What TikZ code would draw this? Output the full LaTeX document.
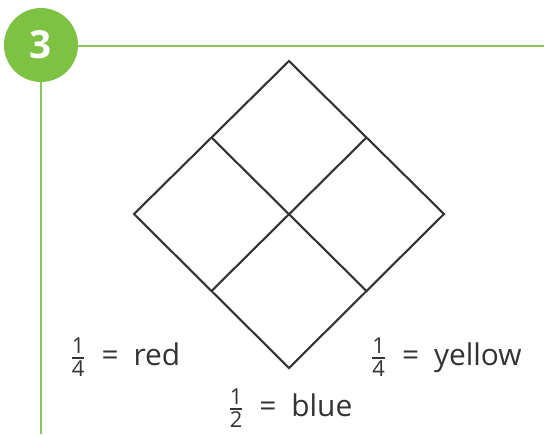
\documentclass[tikz,border=0pt]{standalone}
\usepackage{amsmath}
\usepackage{fontspec}
\setmainfont{Open Sans}
\usepackage{tikz}
\usetikzlibrary{positioning, calc}
\definecolor{twgreen}{HTML}{7DC242}
\definecolor{linegreen}{HTML}{8CC65A}
\definecolor{inkgray}{HTML}{333333}
\newcommand{\partfrac}[2]{$\frac{\mbox{\fontsize{12.5}{13}\selectfont #1}}{\mbox{\fontsize{12.5}{13}\selectfont #2}}$\enspace=\enspace}

\begin{document}
\begin{tikzpicture}[
    x=0.02cm, y=-0.02cm,
    every node/.style={font=\fontsize{17}{20}\selectfont, text=inkgray},
    frame/.style={draw=linegreen, line width=0.9pt},
    badge/.style={circle, fill=twgreen, minimum size=1.48cm, inner sep=0pt, font=\fontsize{22}{24}\selectfont\bfseries, text=white},
    edge/.style={draw=inkgray, line width=1.2pt, line join=miter},
    share/.style={inner sep=1pt}
]
    \useasboundingbox (0,0) rectangle (544,434);

    % number badge and green frame
    \node[badge] (num) at (41,45) {3};
    \coordinate (frameright) at (544,46);
    \coordinate (framebottom) at (41,434);
    \draw[frame] (num.east |- frameright) -- (frameright);
    \draw[frame] (num.south) -- (framebottom);

    % diamond split into four parts
    \coordinate (top) at (289,61);
    \coordinate (right) at (444,214);
    \coordinate (bottom) at (289,368);
    \coordinate (left) at (134,214);
    \draw[edge] (top) -- (right) -- (bottom) -- (left) -- cycle;
    \draw[edge] ($(top)!0.5!(left)$) -- ($(right)!0.5!(bottom)$);
    \draw[edge] ($(top)!0.5!(right)$) -- ($(left)!0.5!(bottom)$);

    % colour key
    \node[share] (red) at (125,357) {\partfrac{1}{4}red};
    \node[share] (yellow) at (446,357) {\partfrac{1}{4}yellow};
    \node[share] (blue) at (290,408) {\partfrac{1}{2}blue};
\end{tikzpicture}
\end{document}
